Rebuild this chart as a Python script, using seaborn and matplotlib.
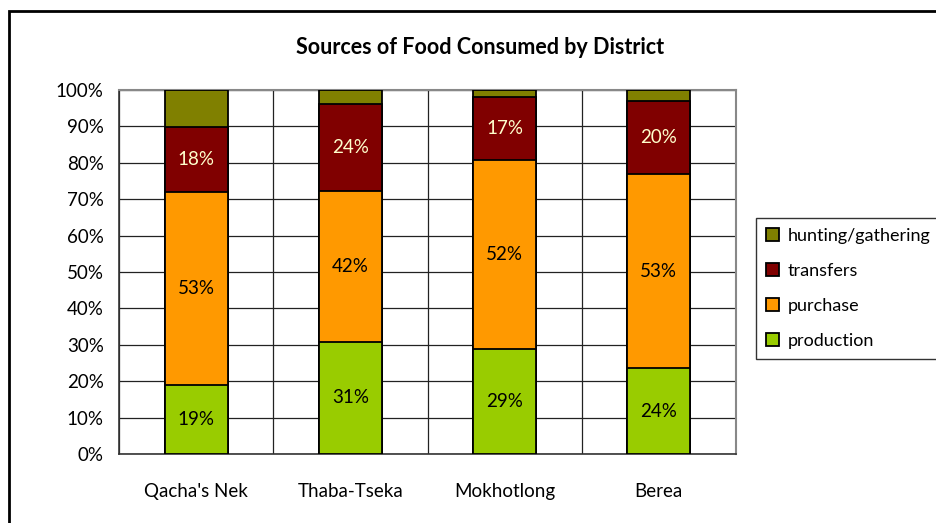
import matplotlib
matplotlib.use("Agg")
import matplotlib.pyplot as plt
from matplotlib.patches import Rectangle, Patch
import pandas as pd
import seaborn as sns

districts = ["Qacha's Nek", "Thaba-Tseka", "Mokhotlong", "Berea"]
production = [19.0, 30.8, 28.8, 23.6]
purchase = [53.0, 41.5, 52.0, 53.3]
transfers = [17.8, 23.9, 17.3, 20.1]
hunting = [10.2, 3.8, 1.9, 3.0]

sources = ["production", "purchase", "transfers", "hunting/gathering"]
colors = {"production": "#99CC00", "purchase": "#FF9900",
          "transfers": "#800000", "hunting/gathering": "#808000"}
label_colors = {"production": "black", "purchase": "black",
                "transfers": "#FFFFCC"}

values = {"production": production, "purchase": purchase,
          "transfers": transfers, "hunting/gathering": hunting}

# cumulative tops so bars can be overlaid (seaborn has no stacking)
rows = []
for i, d in enumerate(districts):
    total = 0
    for s in sources:
        v = values[s][i]
        rows.append({"district": d, "source": s, "value": v,
                     "bottom": total, "top": total + v})
        total += v
df = pd.DataFrame(rows)
df["total"] = df.groupby("district")["value"].transform("sum")
df["pct"] = df["top"] / df["total"] * 100

sns.set_style("white")
plt.rcParams["font.family"] = ["Lato", "DejaVu Sans"]
plt.rcParams["text.color"] = "black"
plt.rcParams["xtick.color"] = "black"
plt.rcParams["ytick.color"] = "black"

fig = plt.figure(figsize=(9.36, 5.23), dpi=100)
ax = fig.add_axes([119 / 936, 1 - 454 / 523, (736 - 119) / 936, (454 - 90) / 523])

for s in reversed(sources):
    sub = df[df["source"] == s]
    sns.barplot(data=sub, x="district", y="pct", order=districts, color=colors[s],
                width=0.41, edgecolor="black", linewidth=1.3, saturation=1,
                ax=ax, zorder=3)

for _, r in df.iterrows():
    if r["source"] in label_colors:
        i = districts.index(r["district"])
        mid = (r["bottom"] + r["value"] / 2) / r["total"] * 100
        ax.text(i, mid, f"{round(r['value'])}%", ha="center", va="center",
                fontsize=13.5, color=label_colors[r["source"]], zorder=4)

ax.set_xlim(-0.5, 3.5)
ax.set_ylim(0, 100)
ax.set_yticks(range(0, 101, 10))
ax.set_yticklabels([f"{t}%" for t in range(0, 101, 10)], fontsize=13.5)
ax.set_xticks([-0.5, 0.5, 1.5, 2.5, 3.5])
ax.set_xticklabels([])
ax.set_xticks(range(4), minor=True)
ax.set_xticklabels(districts, minor=True, fontsize=13.5)
ax.tick_params(axis="x", which="major", direction="out", length=7, width=1, color="#333333")
ax.tick_params(axis="x", which="minor", length=0, pad=21)
ax.tick_params(axis="y", direction="out", length=6, width=1, color="#333333", pad=5)
ax.set_xlabel("")
ax.set_ylabel("")

ax.set_axisbelow(True)
ax.grid(True, which="major", axis="both", color="#222222", linewidth=0.9)

for side in ["left", "bottom"]:
    ax.spines[side].set_color("#333333")
    ax.spines[side].set_linewidth(1.2)
for side in ["top", "right"]:
    ax.spines[side].set_color("#888888")
    ax.spines[side].set_linewidth(1.5)

handles = [Patch(facecolor=colors[s], edgecolor="black", linewidth=1.3)
           for s in reversed(sources)]
leg = fig.legend(handles, list(reversed(sources)), loc="upper left",
                 bbox_to_anchor=(756 / 936, 1 - 218 / 523), fontsize=13,
                 frameon=True, fancybox=False, edgecolor="black",
                 handlelength=0.7, handleheight=0.7, handletextpad=0.5,
                 labelspacing=1.05, borderpad=0.55, borderaxespad=0)
leg.get_frame().set_linewidth(1.0)

fig.text(480 / 936, 1 - 47 / 523, "Sources of Food Consumed by District",
         ha="center", va="center", fontsize=15.5, fontweight="bold")

fig.patches.append(Rectangle((9 / 936, -0.1), 1.2, 1.1 - 11 / 523,
                             transform=fig.transFigure, fill=False,
                             edgecolor="black", linewidth=2, clip_on=False))

fig.savefig("out.png", dpi=100)
plt.close(fig)
